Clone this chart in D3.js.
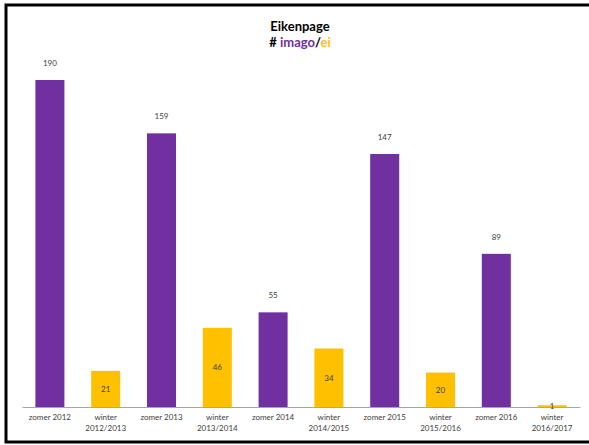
<!DOCTYPE html>
<html><head><meta charset="utf-8">
<script src="https://cdn.jsdelivr.net/npm/d3@7"></script>
<style>body{margin:0;background:#fff}svg{display:block}</style>
</head><body>
<script>
const categories = [["zomer 2012"],["winter","2012/2013"],["zomer 2013"],["winter","2013/2014"],["zomer 2014"],["winter","2014/2015"],["zomer 2015"],["winter","2015/2016"],["zomer 2016"],["winter","2016/2017"]];
const values = [190,21,159,46,55,34,147,20,89,1];
const seasons = ["zomer","winter","zomer","winter","zomer","winter","zomer","winter","zomer","winter"];
const colors = {zomer:"#7030A0", winter:"#FFC000"};
const font = "Lato, 'Open Sans', sans-serif";

const W=589,H=445;
const svg=d3.select("body").append("svg").attr("width",W).attr("height",H);
svg.append("rect").attr("x",0).attr("y",0).attr("width",W).attr("height",H).attr("fill","#fff");
// frame
svg.append("rect").attr("x",6).attr("y",5).attr("width",W+10).attr("height",437)
  .attr("fill","none").attr("stroke","#000").attr("stroke-width",3);

const x=d3.scaleBand().domain(d3.range(values.length)).range([22,580]).paddingInner(0.48).paddingOuter(0.24);
const y=d3.scaleLinear().domain([0,200]).range([407,62.8]);

svg.append("g").selectAll("rect").data(values).join("rect")
  .attr("x",(d,i)=>x(i)).attr("width",x.bandwidth())
  .attr("y",d=>y(d)).attr("height",d=>y(0)-y(d))
  .attr("fill",(d,i)=>colors[seasons[i]]);

const ax=svg.append("g").attr("transform","translate(0,407)").call(d3.axisBottom(x).tickSize(0).tickFormat(""));
ax.select(".domain").attr("stroke","#a6a6a6").attr("stroke-width",1);

// category labels
const cl=svg.append("g").selectAll("text").data(categories).join("text")
  .attr("x",(d,i)=>x(i)+x.bandwidth()/2).attr("y",420)
  .attr("text-anchor","middle").attr("font-family",font).attr("font-size",8).attr("fill","#404040");
cl.each(function(d){d3.select(this).selectAll("tspan").data(d).join("tspan")
  .attr("x",d3.select(this).attr("x")).attr("dy",(t,j)=>j?11:0).text(t=>t);});

// value labels
svg.append("g").selectAll("text").data(values).join("text")
  .attr("x",(d,i)=>x(i)+x.bandwidth()/2)
  .attr("y",(d,i)=>seasons[i]==="zomer"? y(d)-14 : (y(d)+y(0))/2+3)
  .attr("text-anchor","middle").attr("font-family",font).attr("font-size",8).attr("fill","#404040")
  .text(d=>d);

// title
svg.append("text").attr("x",300).attr("y",31).attr("text-anchor","middle")
  .attr("font-family",font).attr("font-weight","bold").attr("font-size",13).attr("fill","#000").text("Eikenpage");
const t2=svg.append("text").attr("x",300).attr("y",47).attr("text-anchor","middle")
  .attr("font-family",font).attr("font-weight","bold").attr("font-size",13);
t2.append("tspan").attr("fill","#000").text("# ");
t2.append("tspan").attr("fill","#7030A0").text("imago");
t2.append("tspan").attr("fill","#000").text("/");
t2.append("tspan").attr("fill","#FFC000").text("ei");
</script>
</body></html>
